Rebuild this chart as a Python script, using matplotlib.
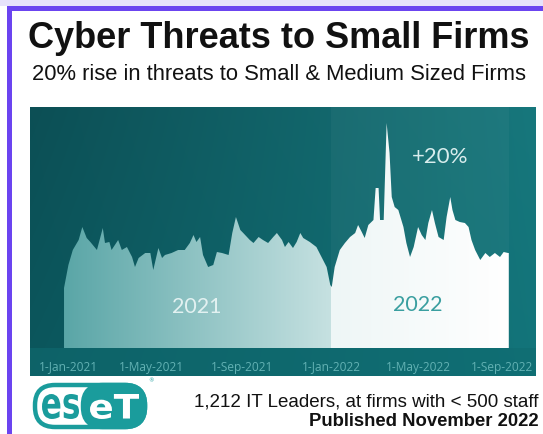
import numpy as np
import matplotlib
matplotlib.use('Agg')
import matplotlib.pyplot as plt
import matplotlib.dates as mdates
from matplotlib.patches import Rectangle, FancyBboxPatch, PathPatch
from matplotlib.textpath import TextPath
from matplotlib.font_manager import FontProperties
from matplotlib.colors import to_rgb
from matplotlib.transforms import Affine2D, ScaledTranslation, blended_transform_factory

# ---------------- data ----------------
start_date = '2021-01-01'
day_offsets = [0, 6, 12, 20, 25, 31, 36, 45, 53, 56, 62, 65, 74, 79, 86, 93, 97, 102,
               111, 118, 122, 129, 134, 138, 147, 156, 165, 172, 177, 181, 186, 190,
               197, 204, 209, 216, 225, 230, 235, 241, 245, 254, 259, 266, 272, 279,
               286, 291, 298, 302, 307, 313, 318, 323, 327, 336, 345, 352, 359, 364,
               366, 370, 377, 384, 391, 398, 402, 407, 411, 416, 423, 426, 430, 432,
               437, 441, 445, 448, 452, 457, 464, 468, 473, 478, 484, 489, 494, 498,
               503, 507, 512, 519, 523, 528, 531, 535, 541, 548, 553, 557, 562, 569,
               576, 582, 589, 596, 601, 607, 608]
threat_index = [60, 83, 98, 108, 121, 110, 106, 98, 120, 105, 106, 98, 108, 98, 101, 91,
                81, 90, 95, 95, 78, 100, 90, 93, 95, 98, 98, 105, 113, 106, 111, 93,
                81, 83, 96, 95, 93, 115, 131, 118, 115, 108, 105, 111, 108, 105, 111,
                115, 108, 101, 106, 100, 106, 115, 110, 106, 101, 91, 81, 63,
                61, 81, 98, 105, 111, 115, 123, 116, 110, 123, 128, 160, 160, 128,
                128, 225, 195, 151, 141, 138, 121, 105, 91, 101, 121, 113, 108, 125,
                138, 125, 111, 108, 131, 151, 138, 128, 126, 125, 121, 108, 98, 88,
                95, 91, 95, 91, 96, 95, 95]
tick_dates = ['2021-01-01', '2021-05-01', '2021-09-01', '2022-01-01', '2022-05-01', '2022-09-01']
tick_labels = ['1-Jan-2021', '1-May-2021', '1-Sep-2021', '1-Jan-2022', '1-May-2022', '1-Sep-2022']
split_date = '2022-01-01'
end_date = '2022-09-01'
year_labels = ['2021', '2022']
rise_label = '+20%'
title = 'Cyber Threats to Small Firms'
subtitle = '20% rise in threats to Small & Medium Sized Firms'
foot1 = '1,212 IT Leaders, at firms with < 500 staff'
foot2 = 'Published November 2022'

# ---------------- figure ----------------
W, H = 543, 434
fig = plt.figure(figsize=(W / 100, H / 100), dpi=100)
fig.patch.set_facecolor('white')

px_l, px_r, px_t, px_b = 30, 536, 107, 376
ax = fig.add_axes([px_l / W, 1 - px_b / H, (px_r - px_l) / W, (px_b - px_t) / H])
ax.set_axis_off()

start = np.datetime64(start_date)
dates = start + np.array(day_offsets).astype('timedelta64[D]')
x = mdates.date2num(dates)
x0 = mdates.date2num(start)
xmin, xmax = x0 - 46.5, x0 + 645.2
ymin, ymax = -28, 241


def hexrgb(c):
    return np.array(to_rgb(c))


# background gradient
bw, bh = 300, 200
u = np.linspace(0, 1, bw)[None, :, None]
v = np.linspace(0, 1, bh)[:, None, None]  # 0 top -> 1 bottom
TL, TR = hexrgb('#0c4f55'), hexrgb('#17777c')
BL, BR = hexrgb('#0b575d'), hexrgb('#12747a')
bg = (1 - u) * (1 - v) * TL + u * (1 - v) * TR + (1 - u) * v * BL + u * v * BR
ax.imshow(bg, extent=[xmin, xmax, ymin, ymax], aspect='auto', zorder=0,
          interpolation='bilinear', origin='upper')

xs = mdates.date2num(np.datetime64(split_date))
xe = mdates.date2num(np.datetime64(end_date))
ax.axvspan(xs, xe, ymin=(0 - ymin) / (ymax - ymin), ymax=1, color='white',
           alpha=0.035, lw=0, zorder=1)
ax.axhspan(ymin, 0, color='#0f6b70', alpha=0.6, lw=0, zorder=1)

# area with gradient fill
poly = ax.fill_between(x, 0, threat_index, facecolor='none', edgecolor='none', zorder=2)
path = poly.get_paths()[0]
ncol = 600
cols = np.linspace(xmin, xmax, ncol)
grad = np.zeros((1, ncol, 3))
c21a, c21b = hexrgb('#5aa6a7'), hexrgb('#c6e1e1')
c22a, c22b = hexrgb('#eef6f6'), hexrgb('#ffffff')
for i, c in enumerate(cols):
    if c < xs:
        t = np.clip((c - x0) / (xs - x0), 0, 1)
        grad[0, i] = c21a * (1 - t) + c21b * t
    else:
        t = np.clip((c - xs) / (xe - xs), 0, 1)
        grad[0, i] = c22a * (1 - t) + c22b * t
im = ax.imshow(grad, extent=[xmin, xmax, 0, ymax], aspect='auto', zorder=3,
               interpolation='nearest')
im.set_clip_path(path, transform=ax.transData)

ax.set_xlim(xmin, xmax)
ax.set_ylim(ymin, ymax)

# tick labels inside panel
tick_x = mdates.date2num(np.array(tick_dates, dtype='datetime64[D]'))
ytick = 9 / (px_b - px_t)
for i, (tx, tl) in enumerate(zip(tick_x, tick_labels)):
    off = 0
    if i == 0:
        off = 4
    if i == len(tick_x) - 1:
        off = -7
    tr = blended_transform_factory(ax.transData, ax.transAxes) + \
        ScaledTranslation(off / 100, 0, fig.dpi_scale_trans)
    ax.text(tx, ytick, tl, transform=tr, ha='center', va='center', fontsize=8.6,
            color='#62b1b3', family=['Open Sans', 'DejaVu Sans'], zorder=5)

ax.text(0.330, 0.2565, year_labels[0], transform=ax.transAxes, ha='center', va='center',
        fontsize=15.5, color='#e2f1f1', family=['Lato', 'DejaVu Sans'], zorder=6)
ax.text(0.767, 0.264, year_labels[1], transform=ax.transAxes, ha='center', va='center',
        fontsize=15.5, color='#3a9fa0', family=['Lato', 'DejaVu Sans'], zorder=6)
ax.text(0.810, 0.814, rise_label, transform=ax.transAxes, ha='center', va='center',
        fontsize=16, color='#d8eded', family=['Lato', 'DejaVu Sans'], zorder=6)

# ---------------- overlay in pixel coords ----------------
ov = fig.add_axes([0, 0, 1, 1], zorder=10)
ov.set_xlim(0, W)
ov.set_ylim(H, 0)
ov.set_axis_off()
ov.patch.set_alpha(0)

ov.add_patch(Rectangle((0, 0), W, 6, color='#e7e2fb', lw=0))
ov.add_patch(Rectangle((7, 6), W - 7, 5, color='#6b44f0', lw=0))
ov.add_patch(Rectangle((7, 6), 5, H - 6, color='#6b44f0', lw=0))

ov.text(279, 38, title, ha='center', va='center', fontsize=26, weight='bold',
        family=['Liberation Sans', 'DejaVu Sans'], color='#111111')
ov.text(279, 74, subtitle, ha='center', va='center', fontsize=15.8,
        family=['Liberation Sans', 'DejaVu Sans'], color='#111111')
ov.text(539, 402, foot1, ha='right', va='center', fontsize=13.5,
        family=['Liberation Sans', 'DejaVu Sans'], color='#111111')
ov.text(539, 421, foot2, ha='right', va='center', fontsize=13.3, weight='bold',
        family=['Liberation Sans', 'DejaVu Sans'], color='#111111')

# ESET logo
teal = '#1a9c9c'
ov.add_patch(FancyBboxPatch((35, 385), 110, 42, boxstyle='round,pad=0,rounding_size=20',
                            fc='none', ec=teal, lw=3.2))
ov.add_patch(FancyBboxPatch((83, 385), 62, 42, boxstyle='round,pad=0,rounding_size=20',
                            fc=teal, ec=teal, lw=3.2))
fp = FontProperties(family='DejaVu Sans', weight='bold')


def logo_text(s, xl, xr, yt, yb, color):
    tp = TextPath((0, 0), s, size=10, prop=fp)
    e = tp.get_extents()
    trf = Affine2D().translate(-e.x0, -e.y0).scale((xr - xl) / e.width,
                                                    -(yb - yt) / e.height).translate(xl, yb)
    ov.add_patch(PathPatch(trf.transform_path(tp), fc=color, ec='none'))


logo_text('es', 42, 79, 394, 419, teal)
logo_text('eT', 90, 139, 394, 419, 'white')
ov.text(151, 381, '®', fontsize=4, color=teal, ha='center', va='center')

fig.savefig('out.png', dpi=100)
